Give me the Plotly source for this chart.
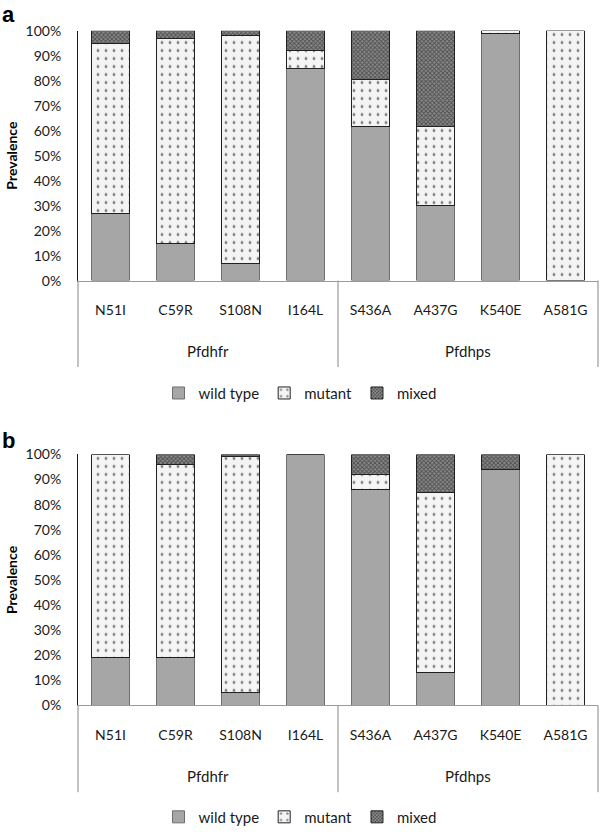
import plotly.graph_objects as go

categories = ["N51I", "C59R", "S108N", "I164L", "S436A", "A437G", "K540E", "A581G"]
genes = ["Pfdhfr", "Pfdhps"]
gene_sizes = [4, 4]

a_wild = [27, 15, 7, 85, 61.5, 30, 99, 0]
a_mutant = [68, 82, 91, 7, 19, 31.5, 1, 100]
a_mixed = [5, 3, 2, 8, 19.5, 38.5, 0, 0]

b_wild = [19, 19, 5, 100, 86, 13, 94, 0]
b_mutant = [81, 77, 94, 0, 6, 72, 0, 100]
b_mixed = [0, 4, 1, 0, 8, 15, 6, 0]

y_ticks = list(range(0, 101, 10))
y_ticktext = [f"{v}%" for v in y_ticks]

FONT = "Lato"
W, H = 600, 834

def py(px):
    return 1 - px / H

styles = {
    "wild type": dict(color="#a6a6a6", line=dict(color="#6e6e6e", width=1)),
    "mutant": dict(color="#f4f4f4", line=dict(color="#202020", width=1),
                   pattern=dict(shape=".", fgcolor="#000000", bgcolor="#f4f4f4",
                                size=8, solidity=0.1)),
    "mixed": dict(color="#555555", line=dict(color="#202020", width=1),
                  pattern=dict(shape="x", fgcolor="#111111", bgcolor="#8a8a8a",
                               size=3, solidity=0.5)),
}

fig = go.Figure()
panels = [
    ("x", "y", "legend", (a_wild, a_mutant, a_mixed)),
    ("x2", "y2", "legend2", (b_wild, b_mutant, b_mixed)),
]
for xa, ya, lg, series in panels:
    for name, vals in zip(["wild type", "mutant", "mixed"], series):
        fig.add_trace(go.Bar(
            x=categories, y=vals, name=name, xaxis=xa, yaxis=ya, legend=lg,
            marker=styles[name], hoverinfo="skip",
        ))

xdom = [78 / W, 598 / W]
ydom_a = [py(284), py(31)]
ydom_b = [py(714), py(460)]

xcommon = dict(domain=xdom, type="category", categoryorder="array",
               categoryarray=categories, range=[-0.5, len(categories) - 0.5],
               showline=True, linecolor="#9a9a9a", linewidth=1,
               ticks="outside", ticklen=17, tickcolor="rgba(0,0,0,0)",
               tickfont=dict(family=FONT, size=14, color="#1a1a1a"),
               showgrid=False, zeroline=False, fixedrange=True, automargin=False)
ycommon = dict(range=[0, 100], tickmode="array", tickvals=y_ticks, ticktext=y_ticktext,
               showline=True, linecolor="#1a1a1a", linewidth=1,
               ticks="", ticklabelstandoff=13, showgrid=False, zeroline=False,
               tickfont=dict(family=FONT, size=14, color="#1a1a1a"),
               title=dict(text="<b>Prevalence</b>", font=dict(family=FONT, size=14, color="#000"),
                          standoff=4),
               fixedrange=True, automargin=False)

legend_common = dict(orientation="h", x=0.5, xanchor="center", yanchor="middle",
                     font=dict(family=FONT, size=15), itemwidth=30, tracegroupgap=0,
                     traceorder="normal")

fig.update_layout(
    width=W, height=H, margin=dict(l=0, r=0, t=0, b=0),
    paper_bgcolor="white", plot_bgcolor="white",
    barmode="stack", bargap=0.43,
    font=dict(family=FONT, size=14, color="#1a1a1a"),
    xaxis=dict(anchor="y", **xcommon),
    yaxis=dict(domain=ydom_a, anchor="x", **ycommon),
    xaxis2=dict(anchor="y2", **xcommon),
    yaxis2=dict(domain=ydom_b, anchor="x2", **ycommon),
    legend=dict(y=py(398), **legend_common),
    legend2=dict(y=py(827), **legend_common),
)

# group labels and divider lines below the category axis
shapes = []
annotations = []
for xref, yref in [("x", "y"), ("x2", "y2")]:
    start = 0
    bounds = [0]
    for g, n in zip(genes, gene_sizes):
        center = start + (n - 1) / 2
        annotations.append(dict(x=center, xref=xref, y=-0.28, yref=f"{yref} domain",
                                text=g, showarrow=False, yanchor="middle",
                                font=dict(family=FONT, size=15, color="#1a1a1a")))
        start += n
        bounds.append(start)
    for b in bounds:
        shapes.append(dict(type="line", xref=f"{xref} domain", yref=f"{yref} domain",
                           x0=b / len(categories), x1=b / len(categories), y0=0, y1=-0.346,
                           line=dict(color="#9a9a9a", width=1.2)))

annotations.append(dict(x=0.0, xref="paper", y=py(15), yref="paper", text="<b>a</b>",
                        showarrow=False, xanchor="left", yanchor="middle",
                        font=dict(family="Liberation Sans", size=22, color="#000")))
annotations.append(dict(x=0.0, xref="paper", y=py(446), yref="paper", text="<b>b</b>",
                        showarrow=False, xanchor="left", yanchor="middle",
                        font=dict(family="Liberation Sans", size=22, color="#000")))

fig.update_layout(shapes=shapes, annotations=annotations)

fig.write_html(
    "out.html",
    config={"displayModeBar": False},
    post_script="document.body.style.margin='0';document.body.style.overflow='hidden';",
)
